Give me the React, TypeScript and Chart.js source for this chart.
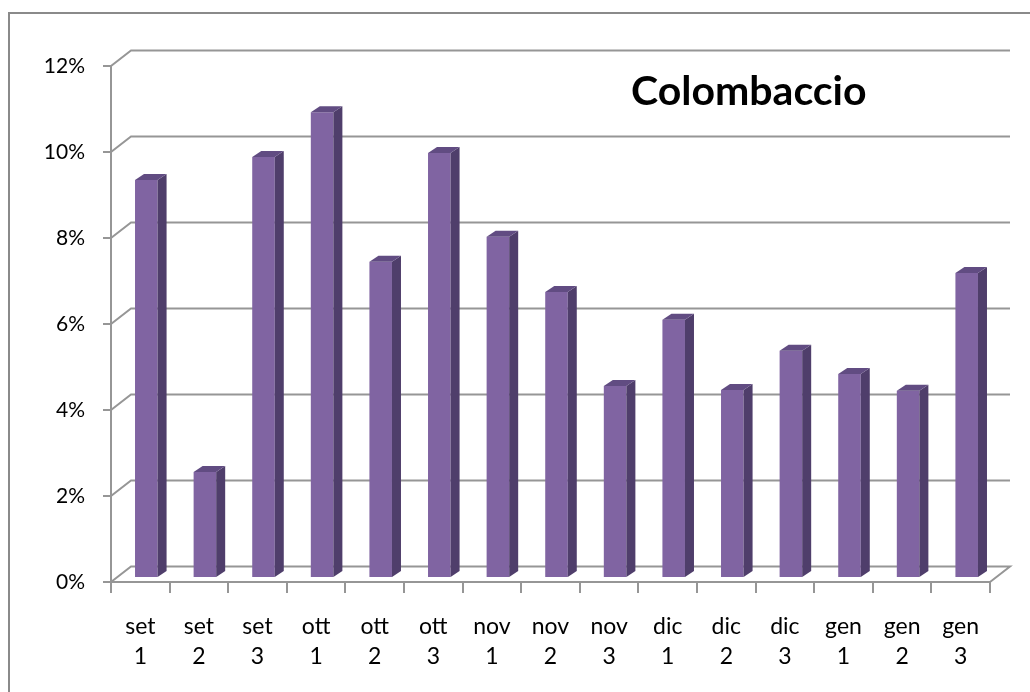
import React, { useEffect, useRef } from "react";
import { Chart, registerables } from "chart.js";

Chart.register(...registerables);

// ---- data ----
const months = ["set", "set", "set", "ott", "ott", "ott", "nov", "nov", "nov", "dic", "dic", "dic", "gen", "gen", "gen"];
const decades = ["1", "2", "3", "1", "2", "3", "1", "2", "3", "1", "2", "3", "1", "2", "3"];
const values = [9.23, 2.44, 9.77, 10.81, 7.33, 9.86, 7.91, 6.63, 4.44, 5.98, 4.35, 5.26, 4.72, 4.33, 7.07];
const yMin = 0;
const yMax = 12;
const yStep = 2;
const chartTitle = "Colombaccio";

// ---- styling ----
const FONT = "Lato, 'Open Sans', sans-serif";
const GRID = "#969696";
const BAR_FRONT = "#8064a2";
const BAR_SIDE = "#4f3e6b";
const BAR_TOP = "#614c82";
const DEPTH_X = 20;
const DEPTH_Y = 15.5;
const BAR_DX = 9;
const BAR_DY = 6;
const BAR_SHIFT_PX = 6; // bars sit a little right of category centres (3D perspective)
const BAR_LIFT_PX = 5; // bar bases sit between front and back floor edges

const threeD = {
  id: "threeD",
  beforeDraw(chart: any) {
    const ctx = chart.ctx;
    ctx.save();
    ctx.strokeStyle = "#8a8a8a";
    ctx.lineWidth = 2;
    ctx.beginPath();
    ctx.moveTo(9, 700);
    ctx.lineTo(9, 13);
    ctx.lineTo(1040, 13);
    ctx.stroke();
    ctx.restore();
  },
  beforeDatasetsDraw(chart: any) {
    const ctx = chart.ctx;
    const { left, right } = chart.chartArea;
    const y = chart.scales.y;
    ctx.save();
    ctx.strokeStyle = GRID;
    ctx.lineWidth = 2;
    y.ticks.forEach((t: any) => {
      const yf = y.getPixelForValue(t.value);
      ctx.beginPath();
      ctx.moveTo(left, yf);
      ctx.lineTo(left + DEPTH_X, yf - DEPTH_Y);
      ctx.lineTo(right + DEPTH_X, yf - DEPTH_Y);
      if (t.value === yMin) ctx.lineTo(right, yf);
      ctx.stroke();
    });
    ctx.restore();
  },
  afterDatasetsDraw(chart: any) {
    const ctx = chart.ctx;
    const meta = chart.getDatasetMeta(0);
    ctx.save();
    meta.data.forEach((el: any) => {
      const { x, y, base, width } = el.getProps(["x", "y", "base", "width"], true);
      const l = x - width / 2;
      const r = x + width / 2;
      ctx.fillStyle = BAR_SIDE;
      ctx.beginPath();
      ctx.moveTo(r, y);
      ctx.lineTo(r + BAR_DX, y - BAR_DY);
      ctx.lineTo(r + BAR_DX, base - BAR_DY);
      ctx.lineTo(r, base);
      ctx.closePath();
      ctx.fill();
      ctx.fillStyle = BAR_TOP;
      ctx.beginPath();
      ctx.moveTo(l, y);
      ctx.lineTo(l + BAR_DX, y - BAR_DY);
      ctx.lineTo(r + BAR_DX, y - BAR_DY);
      ctx.lineTo(r, y);
      ctx.closePath();
      ctx.fill();
    });
    ctx.restore();
  },
  afterDraw(chart: any) {
    const ctx = chart.ctx;
    ctx.save();
    ctx.fillStyle = "#000";
    ctx.font = `bold 41px ${FONT}`;
    ctx.textBaseline = "alphabetic";
    ctx.textAlign = "left";
    ctx.fillText(chartTitle, 631, 105);
    ctx.restore();
  },
};

export default function App() {
  const ref = useRef<HTMLCanvasElement>(null);
  useEffect(() => {
    if (!ref.current) return;
    const labels = months.map((m, i) => [m, decades[i]]);
    const n = values.length;
    const pxPerUnit = (582 - 66) / (yMax - yMin);
    const lift = BAR_LIFT_PX / pxPerUnit;
    const shift = BAR_SHIFT_PX / ((990 - 111) / n);
    const chart = new Chart(ref.current, {
      type: "bar",
      data: {
        labels,
        datasets: [
          {
            data: values.map((v, i) => ({ x: i, y: v })),
            xAxisID: "xb",
            yAxisID: "yb",
            backgroundColor: BAR_FRONT,
            borderWidth: 0,
            barPercentage: 0.385,
            categoryPercentage: 1,
          },
        ],
      },
      plugins: [threeD],
      options: {
        animation: false,
        responsive: false,
        devicePixelRatio: 1,
        layout: { padding: { left: 0, right: 40, top: 66, bottom: 0 } },
        plugins: { legend: { display: false }, tooltip: { enabled: false }, title: { display: false } },
        scales: {
          x: {
            type: "category",
            offset: true,
            afterFit: (s: any) => {
              s.height = 110;
            },
            grid: { offset: true, drawOnChartArea: false, tickLength: 11, color: GRID, lineWidth: 2 },
            border: { display: true, color: GRID, width: 2 },
            ticks: {
              color: "#000",
              font: { family: FONT, size: 23, lineHeight: 1.3 },
              padding: 19,
              maxRotation: 0,
              autoSkip: false,
            },
          },
          y: {
            type: "linear",
            min: yMin,
            max: yMax,
            afterFit: (s: any) => {
              s.width = 111;
            },
            grid: { drawOnChartArea: false, tickLength: 8, color: GRID, lineWidth: 2 },
            border: { display: true, color: GRID, width: 2 },
            ticks: {
              stepSize: yStep,
              color: "#000",
              font: { family: FONT, size: 21 },
              padding: 18,
              callback: (v: any) => v + "%",
            },
          },
          xb: {
            type: "linear",
            display: false,
            offset: false,
            bounds: "data",
            grid: { offset: false },
            min: -0.5 - shift,
            max: n - 0.5 - shift,
            ticks: { stepSize: 1 },
          },
          yb: {
            type: "linear",
            display: false,
            min: yMin - lift,
            max: yMax - lift,
          },
        },
      },
    } as any);
    return () => chart.destroy();
  }, []);
  return (
    <div style={{ position: "fixed", left: 0, top: 0, width: 1030, height: 692, background: "#fff" }}>
      <canvas ref={ref} width={1030} height={692} />
    </div>
  );
}
